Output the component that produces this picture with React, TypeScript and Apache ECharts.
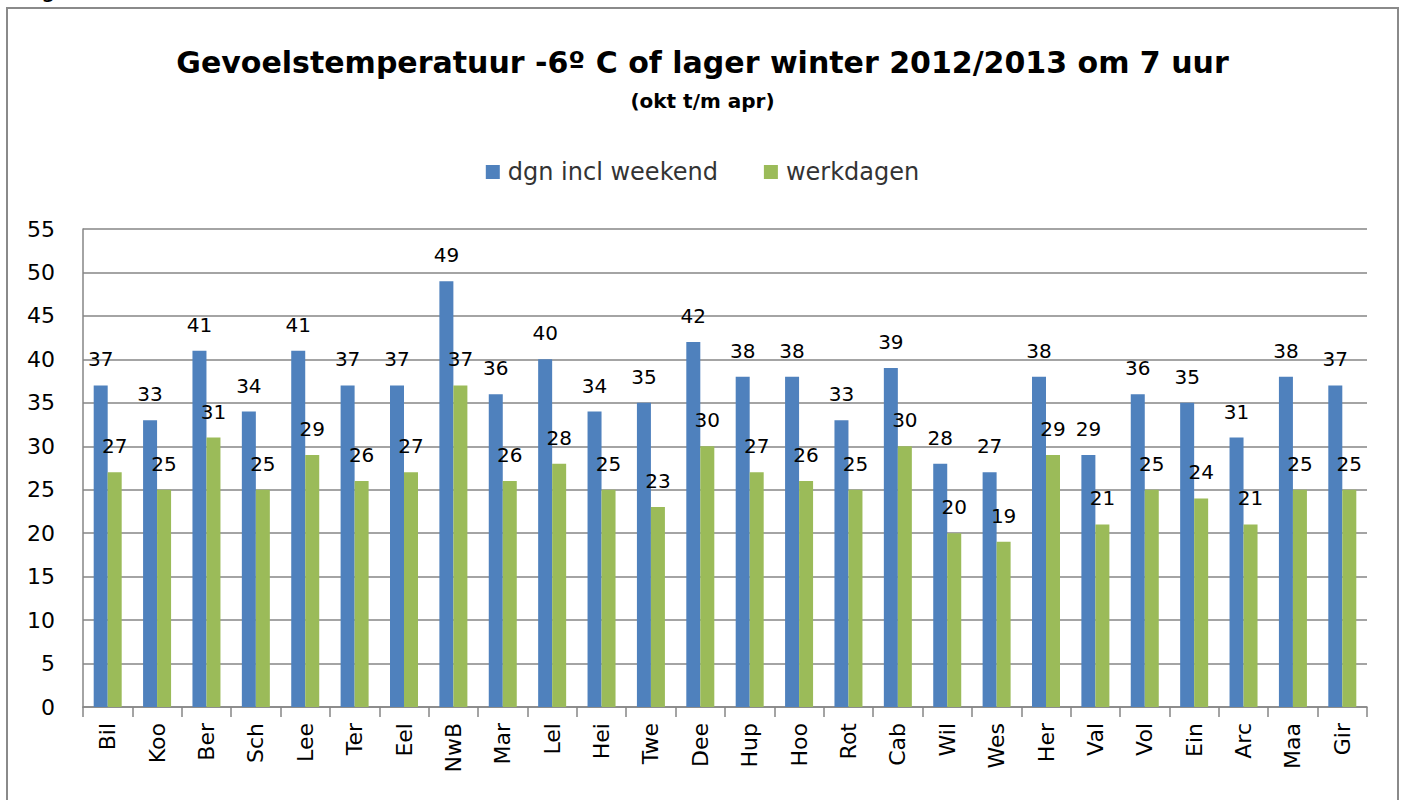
import React, { useEffect, useRef } from "react";
import * as echarts from "echarts";

const categories = ["Bil", "Koo", "Ber", "Sch", "Lee", "Ter", "Eel", "NwB", "Mar", "Lel", "Hei", "Twe", "Dee", "Hup", "Hoo", "Rot", "Cab", "Wil", "Wes", "Her", "Val", "Vol", "Ein", "Arc", "Maa", "Gir"];
const dgnInclWeekend = [37, 33, 41, 34, 41, 37, 37, 49, 36, 40, 34, 35, 42, 38, 38, 33, 39, 28, 27, 38, 29, 36, 35, 31, 38, 37];
const werkdagen = [27, 25, 31, 25, 29, 26, 27, 37, 26, 28, 25, 23, 30, 27, 26, 25, 30, 20, 19, 29, 21, 25, 24, 21, 25, 25];

const FONT = "'DejaVu Sans', 'Open Sans', sans-serif";

export default function App() {
  const ref = useRef<HTMLDivElement>(null);
  useEffect(() => {
    if (!ref.current) return;
    const chart = echarts.init(ref.current, null, { renderer: "svg" });
    const labelStyle = {
      show: true,
      position: "top" as const,
      distance: 16,
      fontSize: 20,
      color: "#000",
      fontFamily: FONT,
    };
    chart.setOption({
      animation: false,
      backgroundColor: "#fff",
      textStyle: { fontFamily: FONT },
      title: {
        text: "Gevoelstemperatuur -6º C of lager winter 2012/2013 om 7 uur",
        subtext: "(okt t/m apr)",
        left: "center",
        top: 42,
        itemGap: 14,
        textStyle: { fontSize: 30, fontWeight: "bold", color: "#000", fontFamily: FONT },
        subtextStyle: { fontSize: 20, fontWeight: "bold", color: "#000", fontFamily: FONT },
      },
      legend: {
        top: 155,
        left: "center",
        itemWidth: 14,
        itemHeight: 14,
        itemGap: 46,
        icon: "rect",
        textStyle: { fontSize: 24, color: "#333", fontFamily: FONT, padding: [0, 0, 0, 3] },
        data: ["dgn incl weekend", "werkdagen"],
      },
      grid: { left: 83, right: 38, top: 229, bottom: 93, containLabel: false },
      xAxis: {
        type: "category",
        data: categories,
        axisLine: { lineStyle: { color: "#868686", width: 1.5 } },
        axisTick: { show: true, length: 10, lineStyle: { color: "#868686", width: 1.5 } },
        axisLabel: { rotate: 90, fontSize: 22, color: "#000", margin: 16, fontFamily: FONT },
      },
      yAxis: {
        type: "value",
        min: 0,
        max: 55,
        interval: 5,
        axisLine: { show: true, lineStyle: { color: "#868686", width: 1.5 } },
        axisTick: { show: false },
        axisLabel: { fontSize: 22, color: "#000", margin: 28, fontFamily: FONT },
        splitLine: { lineStyle: { color: "#868686", width: 1.5 } },
      },
      series: [
        {
          name: "dgn incl weekend",
          type: "bar",
          data: dgnInclWeekend,
          barWidth: 14,
          barGap: "0%",
          itemStyle: { color: "#4F81BD" },
          label: labelStyle,
        },
        {
          name: "werkdagen",
          type: "bar",
          data: werkdagen,
          barWidth: 14,
          itemStyle: { color: "#9BBB59" },
          label: labelStyle,
        },
      ],
      graphic: [
        {
          type: "rect",
          shape: { x: 7, y: 8, width: 1391, height: 820 },
          style: { fill: "none", stroke: "#8a8a8a", lineWidth: 2 },
          silent: true,
        },
        {
          type: "text",
          x: 22,
          y: -23,
          style: { text: "Figuur 6", fontSize: 24, fill: "#000", fontFamily: FONT },
          silent: true,
        },
      ],
    });
    return () => chart.dispose();
  }, []);
  return (
    <div
      ref={ref}
      style={{ position: "fixed", left: 0, top: 0, width: 1405, height: 800, background: "#fff" }}
    />
  );
}
